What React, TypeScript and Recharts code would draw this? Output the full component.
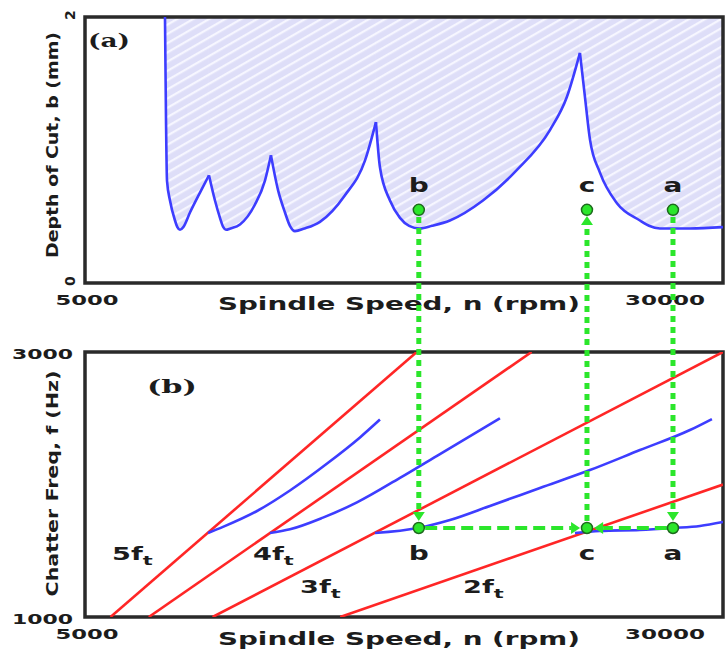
import React from 'react';
import {
  ComposedChart,
  Area,
  Line,
  Scatter,
  XAxis,
  YAxis,
  ReferenceArea,
  ReferenceLine,
} from 'recharts';

const SANS = '"DejaVu Sans", Verdana, sans-serif';
const SERIF = '"DejaVu Serif", "Liberation Serif", serif';
const INK = '#1c1c1c';
const GREEN = '#2be62b';
const BLUE = '#3d3dff';
const RED = '#ff2626';

// (a) stability lobe boundary: spindle speed (rpm) vs limiting depth (mm)
const lobeSpeed = [
  8134, 8174, 8213, 8330, 8526, 8620, 8722, 8850, 9114, 9506, 9858,
  10093, 10289, 10420, 10524, 10700, 11073, 11660, 12052, 12287,
  12562, 12836, 13030, 13228, 13600, 14207, 15187, 15970, 16401,
  16558, 16950, 17342, 17700, 18125, 18600, 19300, 20594, 21926, 23219, 23885, 24394,
  24590, 24786, 25178, 25844, 26745, 27100, 27529, 28705, 30000,
];
const lobeDepth = [
  2.0, 1.23, 0.77, 0.62, 0.47, 0.42, 0.4, 0.42, 0.53, 0.68, 0.81,
  0.62, 0.49, 0.42, 0.4, 0.41, 0.44, 0.59, 0.77, 0.96,
  0.7, 0.53, 0.43, 0.39, 0.41, 0.46, 0.66, 0.92, 1.21,
  0.87, 0.62, 0.49, 0.43, 0.41, 0.43, 0.47, 0.62, 0.85, 1.15, 1.4, 1.73,
  1.4, 1.08, 0.83, 0.6, 0.47, 0.43, 0.41, 0.41, 0.42,
];
// cusp speeds where one lobe meets the next
const cuspSpeed = [8134, 9858, 12287, 16401, 24394, 30000];

// test points a, b, c
const pointNames = ['b', 'c', 'a'];
const pointSpeed = [18080, 24670, 28040];
const pointDepth = [0.55, 0.55, 0.55];
const pointFreq = [1672, 1672, 1672];

// (b) tooth passing harmonics k*ft, end points
const harmonicSpeed = [[6000, 18000], [7500, 22500], [10000, 30000], [15000, 30000]];
const harmonicFreq = [[1000, 3000], [1000, 3000], [1000, 3000], [1000, 2000]];
const harmonicNames = ['5', '4', '3', '2'];
const harmonicNameSpeed = [6058, 11582, 13424, 19810];
const harmonicNameFreq = [1430, 1430, 1181, 1181];

// chatter frequency branches
const chatterSpeed = [
  [9820, 10407, 11739, 13032, 14500, 15775, 16558],
  [12248, 13032, 14325, 15657, 17342, 18909, 21260],
  [16362, 18047, 19301, 20868, 22827, 24786, 26745, 28705, 29566],
  [24198, 25178, 26745, 28037, 29096, 30000],
];
const chatterFreq = [
  [1634, 1680, 1800, 1955, 2160, 2355, 2490],
  [1634, 1662, 1750, 1865, 2050, 2230, 2500],
  [1634, 1672, 1732, 1838, 1974, 2109, 2260, 2411, 2494],
  [1634, 1649, 1657, 1672, 1687, 1717],
];

// green guides between the panels (frequency units of panel b)
const guideTop = 4019;
const guideBottom = 1725;
const guideUpTop = 4026;
const guideLeftEnd = [18330, 24400];
const guideRightEnd = [27800, 24950];

const lobeData = lobeSpeed.map((n, i) => ({ n, b: lobeDepth[i] }));
const lobes = cuspSpeed.slice(1).map((hi, i) => lobeData.filter((d) => d.n >= cuspSpeed[i] && d.n <= hi));
const pointsA = pointNames.map((name, i) => ({ name, n: pointSpeed[i], b: pointDepth[i] }));
const pointsB = pointNames.map((name, i) => ({ name, n: pointSpeed[i], f: pointFreq[i] }));
const harmonics = harmonicSpeed.map((s, i) => s.map((n, j) => ({ n, f: harmonicFreq[i][j] })));
const chatter = chatterSpeed.map((s, i) => s.map((n, j) => ({ n, f: chatterFreq[i][j] })));
const harmonicTags = harmonicNames.map((k, i) => ({ k, n: harmonicNameSpeed[i], f: harmonicNameFreq[i] }));

const txt = {
  fontFamily: SANS,
  fontWeight: 700,
  fill: INK,
};

const xTick = (p: any) => {
  const v = p.payload.value;
  const last = v === 30000;
  return (
    <text
      x={last ? p.x : p.x + 2}
      y={p.y + 22}
      textAnchor={last ? 'end' : 'middle'}
      fontSize={14}
      textLength={last ? 80 : 63}
      lengthAdjust="spacingAndGlyphs"
      {...txt}
    >
      {v}
    </text>
  );
};

const depthTick = (p: any) => {
  const bx = p.x - 10;
  const cy = p.y - 2;
  return (
    <text x={bx} y={cy} transform={`rotate(-90 ${bx} ${cy})`} textAnchor="middle" fontSize={14} {...txt}>
      {p.payload.value}
    </text>
  );
};

const freqTick = (p: any) => (
  <text
    x={p.x - 12}
    y={p.y + 7}
    textAnchor="end"
    fontSize={14}
    textLength={61}
    lengthAdjust="spacingAndGlyphs"
    {...txt}
  >
    {p.payload.value}
  </text>
);

const xTitle = (dy: number) => (p: any) => {
  const vb = p.viewBox;
  return (
    <text
      x={vb.x + vb.width / 2 - 5}
      y={vb.y + dy}
      textAnchor="middle"
      fontSize={18}
      textLength={362}
      lengthAdjust="spacingAndGlyphs"
      {...txt}
    >
      Spindle Speed, n (rpm)
    </text>
  );
};

const yTitle = (label: string, dy: number) => (p: any) => {
  const vb = p.viewBox;
  const bx = 58;
  const cy = vb.y + vb.height / 2 + dy;
  return (
    <text
      x={bx}
      y={cy}
      transform={`rotate(-90 ${bx} ${cy})`}
      textAnchor="middle"
      fontSize={16}
      textLength={226}
      lengthAdjust="spacingAndGlyphs"
      {...txt}
    >
      {label}
    </text>
  );
};

const panelTag = (label: string, dx: number, dy: number, w: number) => (p: any) => {
  const vb = p.viewBox;
  return (
    <text
      x={vb.x + dx}
      y={vb.y + dy}
      fontFamily={SERIF}
      fontWeight={700}
      fontSize={18}
      fill={INK}
      textLength={w}
      lengthAdjust="spacingAndGlyphs"
    >
      {label}
    </text>
  );
};

const marker = (labelDy: number) => (p: any) => (
  <g>
    <circle cx={p.cx} cy={p.cy} r={5.5} fill={GREEN} stroke="#1d6a1d" strokeWidth={1.5} />
    <text
      x={0}
      y={p.cy + labelDy}
      transform={`translate(${p.cx} 0) scale(1.4 1)`}
      textAnchor="middle"
      fontSize={20}
      {...txt}
    >
      {p.payload.name}
    </text>
  </g>
);

const harmonicTag = (p: any) => (
  <text x={0} y={0} transform={`translate(${p.cx} ${p.cy}) scale(1.6 1)`} fontSize={17} {...txt}>
    {p.payload.k}f
    <tspan dy={5} fontSize={13}>
      t
    </tspan>
  </text>
);

const arrow = (dash: string, w: number) => (p: any) => {
  const { x1, y1, x2, y2 } = p;
  const dx = x2 - x1;
  const dy = y2 - y1;
  const len = Math.hypot(dx, dy) || 1;
  const ux = dx / len;
  const uy = dy / len;
  const hl = 9;
  const hw = 6;
  const bx = x2 - ux * hl;
  const by = y2 - uy * hl;
  return (
    <g>
      <line x1={x1} y1={y1} x2={bx} y2={by} stroke={GREEN} strokeWidth={w} strokeDasharray={dash} />
      <polygon
        points={`${x2},${y2} ${bx - uy * hw},${by + ux * hw} ${bx + uy * hw},${by - ux * hw}`}
        fill={GREEN}
      />
    </g>
  );
};

function LobePanel() {
  return (
    <ComposedChart width={725} height={322} margin={{ top: 17, right: 2, bottom: 12, left: 0 }}>
      <defs>
        <pattern id="hatch" patternUnits="userSpaceOnUse" width={8} height={8} patternTransform="rotate(-30)">
          <rect width={8} height={8} fill="#dedef8" />
          <line x1={0} y1={1} x2={8} y2={1} stroke="#f6f6ff" strokeWidth={2.5} />
        </pattern>
      </defs>
      <XAxis
        type="number"
        dataKey="n"
        domain={[5000, 30000]}
        ticks={[5000, 30000]}
        allowDataOverflow
        axisLine={false}
        tickLine={false}
        tickSize={0}
        tickMargin={0}
        height={27}
        tick={xTick}
        label={{ content: xTitle(27) }}
      />
      <YAxis
        type="number"
        domain={[0, 2]}
        ticks={[0, 2]}
        allowDataOverflow
        axisLine={false}
        tickLine={false}
        tickSize={0}
        tickMargin={0}
        width={85}
        tick={depthTick}
        label={{ content: yTitle('Depth of Cut, b (mm)', -5) }}
      />
      {lobes.map((d, i) => (
        <Area
          key={`fill${i}`}
          data={d}
          dataKey={(e: any) => [e.b, 2]}
          type="monotone"
          stroke="none"
          fill="url(#hatch)"
          fillOpacity={1}
          isAnimationActive={false}
        />
      ))}
      {lobes.map((d, i) => (
        <Line
          key={`lobe${i}`}
          data={d}
          dataKey="b"
          type="monotone"
          stroke={BLUE}
          strokeWidth={2.6}
          dot={false}
          isAnimationActive={false}
        />
      ))}
      <ReferenceArea
        x1={5000}
        x2={30000}
        y1={0}
        y2={2}
        fill="none"
        stroke="#2a2a2a"
        strokeWidth={3.5}
        ifOverflow="visible"
        label={{ content: panelTag('(a)', 3, 30, 42) }}
      />
      <Scatter data={pointsA} dataKey="b" shape={marker(-18)} isAnimationActive={false} />
    </ComposedChart>
  );
}

function FreqPanel() {
  return (
    <ComposedChart width={725} height={650} margin={{ top: 352, right: 2, bottom: 0, left: 0 }}>
      <XAxis
        type="number"
        dataKey="n"
        domain={[5000, 30000]}
        ticks={[5000, 30000]}
        allowDataOverflow
        axisLine={false}
        tickLine={false}
        tickSize={0}
        tickMargin={0}
        height={33}
        tick={xTick}
        label={{ content: xTitle(28) }}
      />
      <YAxis
        type="number"
        domain={[1000, 3000]}
        ticks={[1000, 3000]}
        allowDataOverflow
        axisLine={false}
        tickLine={false}
        tickSize={0}
        tickMargin={0}
        width={85}
        tick={freqTick}
        label={{ content: yTitle('Chatter Freq, f (Hz)', -1) }}
      />
      {harmonics.map((d, i) => (
        <Line
          key={`h${i}`}
          data={d}
          dataKey="f"
          type="linear"
          stroke={RED}
          strokeWidth={2.6}
          dot={false}
          isAnimationActive={false}
        />
      ))}
      {chatter.map((d, i) => (
        <Line
          key={`c${i}`}
          data={d}
          dataKey="f"
          type="monotone"
          stroke={BLUE}
          strokeWidth={2.6}
          dot={false}
          isAnimationActive={false}
        />
      ))}
      <ReferenceArea
        x1={5000}
        x2={30000}
        y1={1000}
        y2={3000}
        fill="none"
        stroke="#2a2a2a"
        strokeWidth={3.5}
        ifOverflow="visible"
        label={{ content: panelTag('(b)', 62, 41, 50) }}
      />
      <Scatter data={harmonicTags} dataKey="f" shape={harmonicTag} isAnimationActive={false} />
      <ReferenceLine
        segment={[{ x: pointSpeed[0], y: guideTop }, { x: pointSpeed[0], y: guideBottom }]}
        ifOverflow="visible"
        shape={arrow('6 5', 5)}
      />
      <ReferenceLine
        segment={[{ x: pointSpeed[2], y: guideTop }, { x: pointSpeed[2], y: guideBottom }]}
        ifOverflow="visible"
        shape={arrow('6 5', 5)}
      />
      <ReferenceLine
        segment={[{ x: pointSpeed[1], y: guideBottom }, { x: pointSpeed[1], y: guideUpTop }]}
        ifOverflow="visible"
        shape={arrow('6 5', 5)}
      />
      <ReferenceLine
        segment={[{ x: guideLeftEnd[0], y: pointFreq[0] }, { x: guideLeftEnd[1], y: pointFreq[0] }]}
        ifOverflow="visible"
        shape={arrow('12 6', 4)}
      />
      <ReferenceLine
        segment={[{ x: guideRightEnd[0], y: pointFreq[2] }, { x: guideRightEnd[1], y: pointFreq[2] }]}
        ifOverflow="visible"
        shape={arrow('12 6', 4)}
      />
      <Scatter data={pointsB} dataKey="f" shape={marker(32)} isAnimationActive={false} />
    </ComposedChart>
  );
}

export default function App() {
  return (
    <div style={{ position: 'absolute', left: 0, top: 0, width: 725, height: 650, background: '#fff' }}>
      <div style={{ position: 'absolute', left: 0, top: 0 }}>
        <LobePanel />
      </div>
      <div style={{ position: 'absolute', left: 0, top: 0 }}>
        <FreqPanel />
      </div>
    </div>
  );
}
